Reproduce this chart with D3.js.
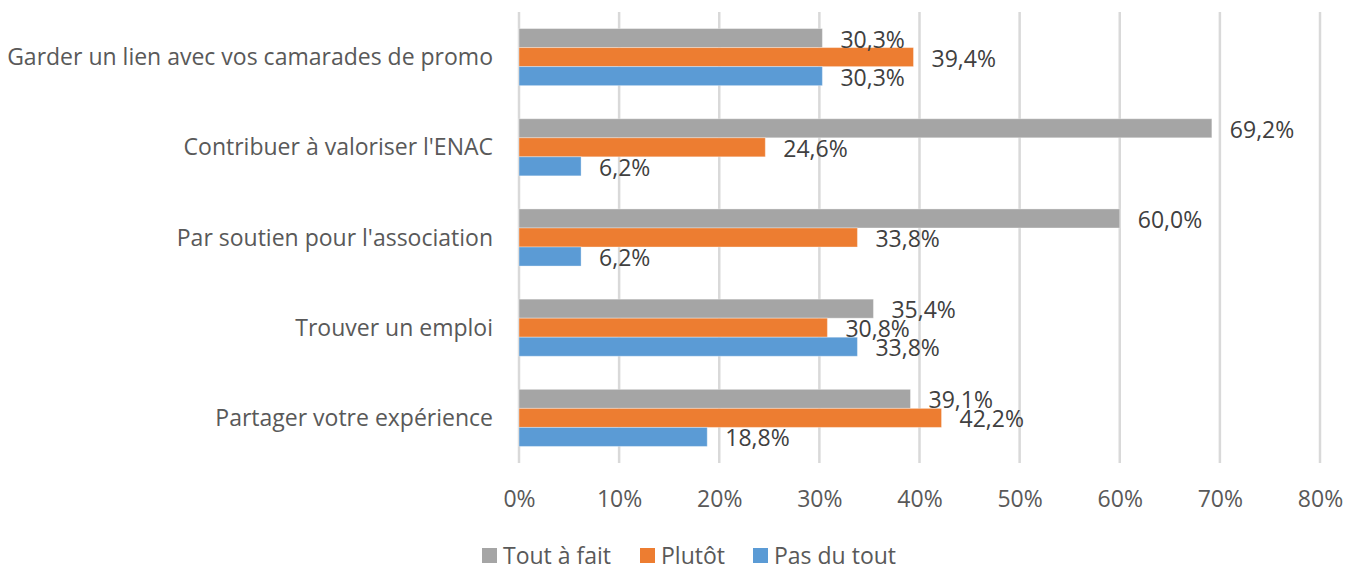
<!DOCTYPE html>
<html>
<head>
<meta charset="utf-8">
<script src="https://cdn.jsdelivr.net/npm/d3@7"></script>
<style>
  body { margin: 0; background: #fff; }
  text { font-family: "Open Sans", sans-serif; }
</style>
</head>
<body>
<script>
// data
var categories = ["Garder un lien avec vos camarades de promo", "Contribuer à valoriser l'ENAC",
                  "Par soutien pour l'association", "Trouver un emploi", "Partager votre expérience"]
var seriesNames = ["Tout à fait", "Plutôt", "Pas du tout"]
var toutAFait = [30.3, 69.2, 60.0, 35.4, 39.1]
var plutot = [39.4, 24.6, 33.8, 30.8, 42.2]
var pasDuTout = [30.3, 6.2, 6.2, 33.8, 18.8]
var xTicks = [0, 10, 20, 30, 40, 50, 60, 70, 80]

var colors = ["#A5A5A5", "#ED7D31", "#5B9BD5"]
var allSeries = [toutAFait, plutot, pasDuTout]

var W = 1356, H = 567
var fs = "23px"
var svg = d3.select("body").append("svg")
    .attr("width", W).attr("height", H)

var xScale = d3.scaleLinear().domain([0, 80]).range([519, 1320])
var yScale = d3.scaleBand().domain(categories).range([12, 463])
var ySub = d3.scaleBand().domain(seriesNames).range([0, yScale.bandwidth()])
    .paddingInner(0).paddingOuter(0.87)

// gridlines
svg.append("g").selectAll("line")
  .data(xTicks)
  .enter().append("line")
    .attr("x1", function(d) { return xScale(d) })
    .attr("x2", function(d) { return xScale(d) })
    .attr("y1", 12).attr("y2", 463)
    .attr("stroke", "#D9D9D9").attr("stroke-width", 2.5)

// x axis labels
var xAxis = d3.axisBottom(xScale).tickValues(xTicks)
    .tickFormat(function(d) { return d + "%" }).tickSize(0).tickPadding(0)
var gx = svg.append("g").attr("transform", "translate(0,507)").call(xAxis)
gx.select(".domain").remove()
gx.selectAll("text").attr("y", 0).attr("dy", 0)
  .style("font-size", fs).style("fill", "#595959").style("font-family", "Open Sans")

// y category labels
svg.append("g").selectAll("text")
  .data(categories)
  .enter().append("text")
    .attr("x", 493)
    .attr("y", function(d) { return yScale(d) + yScale.bandwidth() / 2 })
    .attr("dy", "0.35em")
    .attr("text-anchor", "end")
    .style("font-size", fs).style("fill", "#595959")
    .text(function(d) { return d })

// bars
var groups = svg.selectAll("g.serie")
  .data(allSeries)
  .enter().append("g")
    .attr("class", "serie")
    .style("fill", function(d, i) { return colors[i] })

groups.each(function(vals, si) {
  var g = d3.select(this)
  g.selectAll("rect")
    .data(vals)
    .enter().append("rect")
      .attr("x", xScale(0))
      .attr("y", function(d, i) { return yScale(categories[i]) + ySub(seriesNames[si]) })
      .attr("width", function(d) { return xScale(d) - xScale(0) })
      .attr("height", ySub.bandwidth())
      .attr("stroke", "#fff").attr("stroke-opacity", 0.35).attr("stroke-width", 1)
})

// value labels drawn after all bars so they sit on top
groups.each(function(vals, si) {
  svg.append("g").selectAll("text")
    .data(vals)
    .enter().append("text")
      .attr("x", function(d) { return xScale(d) + 18 })
      .attr("y", function(d, i) { return yScale(categories[i]) + ySub(seriesNames[si]) + ySub.bandwidth() / 2 + 1.5 })
      .attr("dy", "0.35em")
      .style("font-size", fs).style("fill", "#404040")
      .text(function(d) { return d.toFixed(1).replace(".", ",") + "%" })
})

// legend
var legendX = [482, 640, 753]
var legend = svg.append("g").selectAll("g")
  .data(seriesNames)
  .enter().append("g")
    .attr("transform", function(d, i) { return "translate(" + legendX[i] + ",548)" })
legend.append("rect")
  .attr("width", 15).attr("height", 15)
  .attr("fill", function(d, i) { return colors[i] })
legend.append("text")
  .attr("x", 21).attr("y", 16)
  .style("font-size", fs).style("fill", "#595959")
  .text(function(d) { return d })
</script>
</body>
</html>
